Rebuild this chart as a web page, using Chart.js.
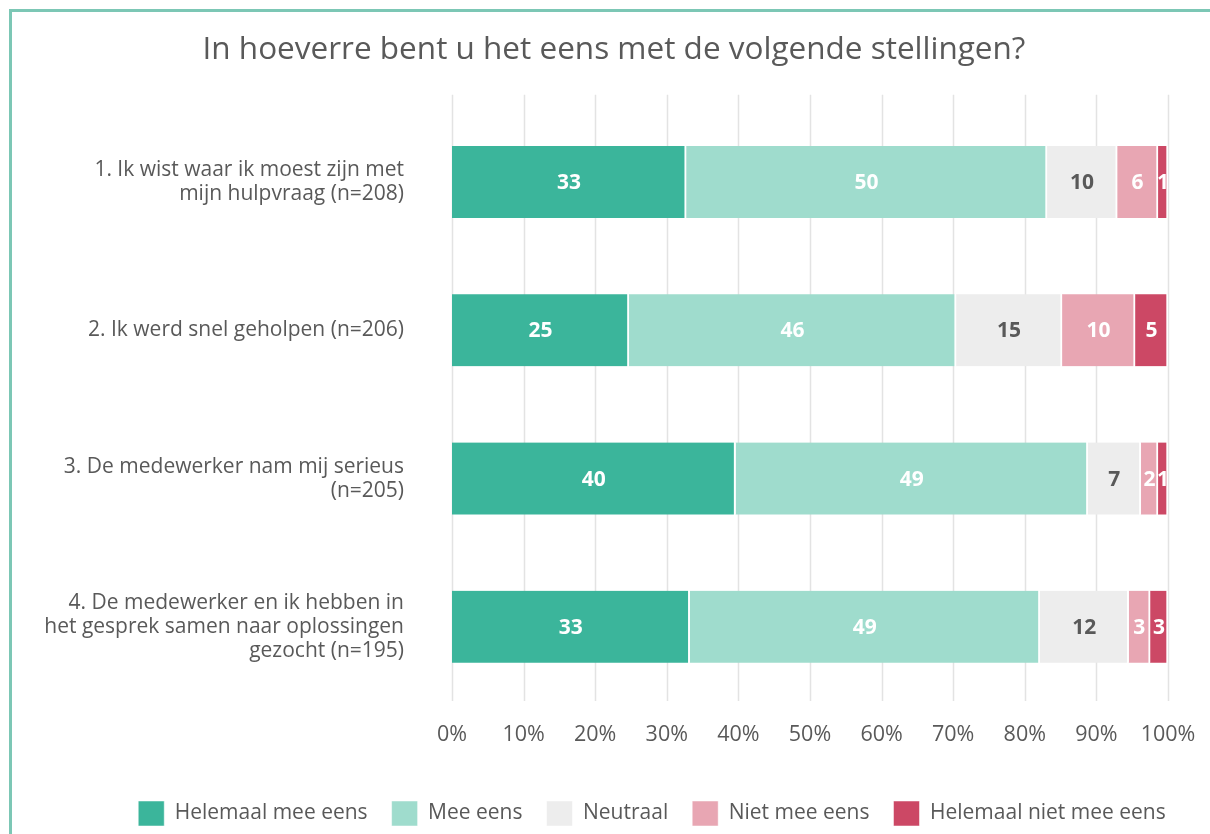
<!DOCTYPE html>
<html>
<head>
  <meta charset="utf-8">
  <title>Stellingen</title>
  <script src="https://cdn.jsdelivr.net/npm/chart.js"></script>
  <style>
    body { margin: 0; background: #fff; overflow: hidden; }
    #frame { position: absolute; left: 9px; top: 9px; width: 1300px; height: 900px;
             border-left: 3px solid #7cc7b5; border-top: 3px solid #7cc7b5; }
    #wrap { position: absolute; left: 0; top: 0; width: 1210px; height: 834px; }
  </style>
</head>
<body>
  <div id="frame"></div>
  <div id="wrap"><canvas id="chart"></canvas></div>

  <script>
    const categories = [
      ['1. Ik wist waar ik moest zijn met', 'mijn hulpvraag (n=208)'],
      '2. Ik werd snel geholpen (n=206)',
      ['3. De medewerker nam mij serieus', '(n=205)'],
      ['4. De medewerker en ik hebben in', 'het gesprek samen naar oplossingen', 'gezocht (n=195)']
    ];
    const seriesNames = ['Helemaal mee eens', 'Mee eens', 'Neutraal', 'Niet mee eens', 'Helemaal niet mee eens'];
    // share per statement
    const helemaalEens = [32.7, 24.7, 39.6, 33.2];
    const meeEens      = [50.4, 45.7, 49.2, 48.9];
    const neutraal     = [9.8, 14.8, 7.4, 12.4];
    const nietEens     = [5.7, 10.2, 2.4, 3.0];
    const helemaalNiet = [1.4, 4.6, 1.4, 2.5];
    // numbers printed in the bars
    const labelsHelemaalEens = [33, 25, 40, 33];
    const labelsMeeEens      = [50, 46, 49, 49];
    const labelsNeutraal     = [10, 15, 7, 12];
    const labelsNietEens     = [6, 10, 2, 3];
    const labelsHelemaalNiet = [1, 5, 1, 3];
    const xTicks = [0, 10, 20, 30, 40, 50, 60, 70, 80, 90, 100];

    const colors = ['#3bb59b', '#9fdccd', '#ededed', '#e8a6b3', '#cc4865'];
    const labelColors = ['#ffffff', '#ffffff', '#595959', '#ffffff', '#ffffff'];
    const values = [helemaalEens, meeEens, neutraal, nietEens, helemaalNiet];
    const printed = [labelsHelemaalEens, labelsMeeEens, labelsNeutraal, labelsNietEens, labelsHelemaalNiet];

    const FONT = '"Open Sans", Lato, sans-serif';
    Chart.defaults.font.family = FONT;
    Chart.defaults.color = '#595959';

    // vertical grid lines, reaching a little above the plot like the original
    const gridPlugin = {
      id: 'gridLines',
      beforeDatasetsDraw(chart) {
        const { ctx, chartArea, scales } = chart;
        ctx.save();
        ctx.strokeStyle = '#e3e3e3';
        ctx.lineWidth = 1.5;
        xTicks.forEach(t => {
          const x = Math.round(scales.x.getPixelForValue(t)) + 0.5;
          ctx.beginPath();
          ctx.moveTo(x, chartArea.top - 13);
          ctx.lineTo(x, chartArea.bottom);
          ctx.stroke();
        });
        ctx.restore();
      }
    };

    // numbers inside the bar segments
    const valuePlugin = {
      id: 'valueLabels',
      afterDatasetsDraw(chart) {
        const { ctx } = chart;
        ctx.save();
        ctx.font = 'bold 21px ' + FONT;
        ctx.textAlign = 'center';
        ctx.textBaseline = 'middle';
        chart.data.datasets.forEach((ds, i) => {
          chart.getDatasetMeta(i).data.forEach((bar, j) => {
            ctx.fillStyle = labelColors[i];
            ctx.fillText(String(printed[i][j]), (bar.x + bar.base) / 2, bar.y + 1);
          });
        });
        ctx.restore();
      }
    };

    // title and legend in the original sit a bit right of centre
    const shiftPlugin = {
      id: 'shiftBlocks',
      afterLayout(chart) {
        chart.legend.left += 68;
        chart.legend.right += 68;
        chart.titleBlock.left += 30;
        chart.titleBlock.right += 30;
      }
    };

    new Chart(document.getElementById('chart'), {
      type: 'bar',
      data: {
        labels: categories,
        datasets: seriesNames.map((name, i) => ({
          label: name,
          data: values[i],
          backgroundColor: colors[i],
          borderColor: '#ffffff',
          borderWidth: { left: 0, right: 2, top: 0, bottom: 0 },
          borderSkipped: false,
          barThickness: 72
        }))
      },
      options: {
        indexAxis: 'y',
        responsive: true,
        maintainAspectRatio: false,
        animation: false,
        layout: { padding: { left: 0, right: 42, top: 0, bottom: -2 } },
        plugins: {
          title: {
            display: true,
            text: 'In hoeverre bent u het eens met de volgende stellingen?',
            font: { size: 31.5, weight: 'normal' },
            color: '#595959',
            padding: { top: 31, bottom: 39 }
          },
          legend: {
            position: 'bottom',
            labels: {
              boxWidth: 26,
              boxHeight: 25,
              padding: 24,
              font: { size: 21 },
              color: '#595959'
            }
          },
          tooltip: { enabled: false }
        },
        scales: {
          x: {
            stacked: true,
            min: 0,
            max: 100,
            grid: { display: false, drawTicks: false },
            border: { display: false },
            ticks: {
              stepSize: 10,
              padding: 21,
              font: { size: 21.5 },
              color: '#595959',
              callback: v => v + '%'
            },
            afterFit: s => { s.height = 76; s.paddingLeft = 0; s.paddingRight = 0; }
          },
          y: {
            stacked: true,
            grid: { display: false, drawTicks: false },
            border: { display: false },
            ticks: {
              padding: 48,
              font: { size: 21, lineHeight: 1.14 },
              color: '#595959'
            },
            afterFit: s => { s.width = 452; }
          }
        }
      },
      plugins: [gridPlugin, valuePlugin, shiftPlugin]
    });
  </script>
</body>
</html>
